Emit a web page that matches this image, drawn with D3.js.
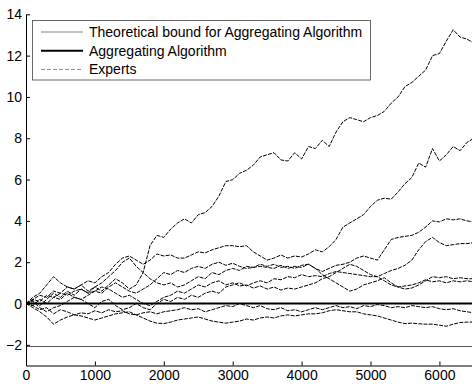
<!DOCTYPE html>
<html><head><meta charset="utf-8">
<script src="https://cdn.jsdelivr.net/npm/d3@7"></script>
<style>body{margin:0;background:#fff}svg{display:block}text{font-family:"Liberation Sans",Arial,sans-serif}</style>
</head><body><svg id="c" width="472" height="384"></svg>
<script>
// time grid of the sampled readings (every 100 rounds)
const steps = d3.range(0, 6501, 100);
const xTicks = [0, 1000, 2000, 3000, 4000, 5000, 6000];
const yTicks = [-2, 0, 2, 4, 6, 8, 10, 12, 14];
const legendLabels = ["Theoretical bound for Aggregating Algorithm", "Aggregating Algorithm", "Experts"];
const boundValue = -2.08;
const aaValue = 0;
const expertA = [0,0.15,-0.1,0.2,0.5,0.3,0.6,0.4,0.7,0.5,0.8,0.6,0.9,1.2,1.0,0.7,0.9,1.5,2.8,3.3,3.2,3.6,3.9,4.1,3.9,4.3,4.4,4.7,5.2,5.9,6.0,6.3,6.45,6.7,7.1,7.2,7.3,6.95,6.9,7.3,7.0,7.6,7.5,7.9,7.6,8.3,8.8,9.0,8.9,8.8,9.0,9.1,9.3,9.7,10.0,10.5,10.7,11.0,11.3,12.0,12.1,12.7,13.25,12.9,12.8,12.6];
const expertB = [0,0.2,0.4,0.3,0.6,0.5,0.8,0.7,0.9,1.1,1.0,1.3,1.5,1.9,2.2,2.3,2.1,1.9,2.1,2.4,2.3,2.35,2.2,2.2,2.35,2.5,2.45,2.6,2.7,2.8,2.8,2.75,2.8,2.5,2.3,2.1,2.2,2.35,2.2,2.3,2.25,2.4,2.6,2.5,2.75,3.1,3.7,3.9,4.1,4.3,4.7,5.0,5.1,5.05,5.4,5.8,6.1,6.8,6.6,7.5,6.9,7.2,7.6,7.4,7.8,8.0];
const expertC = [0,-0.1,0.2,0.0,0.3,0.2,0.5,0.3,0.2,0.4,0.6,0.5,0.8,1.0,0.8,0.6,0.5,0.7,0.9,1.2,1.5,1.4,1.6,1.5,1.7,1.8,1.7,1.9,2.0,1.85,1.95,1.8,1.7,1.75,1.8,1.75,1.7,1.85,1.7,1.8,1.75,1.9,1.7,1.55,1.7,1.85,1.9,2.0,2.2,2.3,2.2,2.1,2.6,3.1,3.2,3.25,3.3,3.45,3.7,4.0,3.95,4.1,4.05,4.1,4.0,3.95];
const expertD = [0,0.1,-0.2,-0.4,-0.2,-0.1,0.1,0.3,0.2,0.0,-0.2,0.1,0.2,-0.1,-0.3,-0.2,0.0,-0.2,-0.3,0.0,0.2,0.1,0.3,0.2,0.4,0.3,0.5,0.6,0.5,0.8,0.9,1.0,0.85,1.0,1.1,1.0,1.2,1.15,1.3,1.25,1.4,1.3,1.35,1.3,1.45,1.55,1.5,1.45,1.4,1.35,1.3,1.3,1.45,1.6,1.7,1.85,2.1,2.6,3.0,3.2,2.95,2.8,2.85,2.9,2.9,2.95];
const expertE = [0,0.3,0.5,0.9,1.3,1.0,0.8,0.7,0.9,0.6,0.8,1.0,1.3,1.6,2.0,2.2,1.8,1.5,1.2,1.0,0.9,1.0,0.8,0.9,1.1,1.3,1.2,1.5,1.4,1.6,1.7,1.6,1.8,1.75,1.9,1.8,1.9,1.75,1.8,1.7,1.85,1.9,1.7,1.4,1.2,1.0,0.8,0.6,0.7,0.9,1.0,1.1,1.25,1.0,0.8,0.7,0.75,0.9,1.1,1.3,1.25,1.3,1.2,1.25,1.2,1.2];
const expertF = [0,0.2,0.1,0.4,0.3,0.5,0.4,0.6,0.7,0.5,0.6,0.8,0.7,0.5,0.3,0.4,0.2,0.0,-0.1,0.1,0.3,0.4,0.6,0.5,0.7,0.9,0.8,1.0,1.1,0.9,1.0,0.85,0.9,0.75,0.85,0.7,0.8,0.65,0.75,0.7,0.8,0.9,1.0,1.2,1.3,1.5,1.7,1.9,1.8,1.6,1.4,1.3,1.1,0.9,0.8,0.85,0.9,1.0,1.15,1.05,1.1,1.0,1.1,1.05,1.1,1.05];
const expertG = [0,-0.1,-0.3,-0.2,-0.5,-0.3,-0.4,-0.55,-0.45,-0.5,-0.35,-0.45,-0.3,-0.4,-0.35,-0.5,-0.55,-0.45,-0.4,-0.5,-0.4,-0.35,-0.3,-0.2,-0.3,-0.25,-0.4,-0.3,-0.2,-0.1,-0.15,0.0,-0.1,-0.2,-0.1,-0.25,-0.3,-0.2,-0.35,-0.3,-0.4,-0.3,-0.2,-0.3,-0.2,-0.1,-0.2,-0.15,-0.25,-0.1,-0.15,-0.05,-0.1,-0.2,-0.15,-0.2,-0.1,-0.15,-0.2,-0.15,-0.25,-0.3,-0.25,-0.35,-0.4,-0.45];
const expertH = [0,-0.2,-0.4,-0.65,-1.0,-0.8,-0.65,-0.55,-0.6,-0.7,-0.8,-0.7,-0.6,-0.5,-0.45,-0.4,-0.55,-0.7,-0.85,-0.95,-0.97,-0.9,-0.8,-0.75,-0.7,-0.65,-0.75,-0.85,-0.9,-0.95,-0.9,-0.85,-0.75,-0.8,-0.7,-0.65,-0.7,-0.6,-0.55,-0.6,-0.55,-0.5,-0.5,-0.45,-0.35,-0.3,-0.35,-0.4,-0.4,-0.5,-0.55,-0.6,-0.7,-0.8,-0.9,-0.97,-0.95,-0.98,-1.0,-1.0,-1.05,-1.1,-1.0,-0.92,-0.9,-0.9];
const experts = [expertA, expertB, expertC, expertD, expertE, expertF, expertG, expertH];

const svg = d3.select("#c");
svg.append("rect").attr("width",472).attr("height",384).attr("fill","#fff");
const L = 26, R = 472, T = 14.3, B = 365.5;
const x = d3.scaleLinear().domain([0, 6473]).range([L, R]);
const y = d3.scaleLinear().domain([-3, 14]).range([B, T]);

svg.append("defs").append("clipPath").attr("id","clip")
  .append("rect").attr("x",L).attr("y",0).attr("width",R-L).attr("height",B);

const plot = svg.append("g").attr("clip-path","url(#clip)");
const line = d3.line().x((d,i)=>x(steps[i])).y(d=>y(d));
experts.forEach(s=>{
  plot.append("path").attr("d",line(s)).attr("fill","none")
    .attr("stroke","#000").attr("stroke-width",1).attr("stroke-dasharray","4,1.2");
});
plot.append("line").attr("x1",x(0)).attr("x2",x(6473)).attr("y1",y(aaValue)).attr("y2",y(aaValue))
  .attr("stroke","#000").attr("stroke-width",2);
plot.append("line").attr("x1",x(0)).attr("x2",x(6473)).attr("y1",y(boundValue)).attr("y2",y(boundValue))
  .attr("stroke","#555").attr("stroke-width",1);

// axes (MATLAB style: ticks inside)
const xa = svg.append("g").attr("transform",`translate(0,${B})`)
  .call(d3.axisBottom(x).tickValues(xTicks).tickSizeInner(-4).tickSizeOuter(0).tickPadding(5).tickFormat(d3.format("d")));
const ya = svg.append("g").attr("transform",`translate(${L},0)`)
  .call(d3.axisLeft(y).tickValues(yTicks).tickSizeInner(-4).tickSizeOuter(0).tickPadding(4).tickFormat(d3.format("d")));
[xa, ya].forEach(g=>{
  g.select(".domain").attr("stroke","#000").attr("stroke-width",1);
  g.selectAll(".tick line").attr("stroke","#000");
  g.selectAll("text").attr("font-size",14).attr("fill","#000").attr("font-family","Liberation Sans, Arial, sans-serif");
});
xa.selectAll("text").attr("dy","0.7em");

// legend
const lg = svg.append("g");
lg.append("rect").attr("x",32.5).attr("y",20.5).attr("width",338).attr("height",59.5)
  .attr("fill","#fff").attr("stroke","#444").attr("stroke-width",0.8);
const styles = [
  {stroke:"#888", w:1.2, dash:null},
  {stroke:"#000", w:2, dash:null},
  {stroke:"#888", w:1, dash:"4,2"}
];
legendLabels.forEach((t,i)=>{
  const yy = 32 + i*18.7;
  lg.append("line").attr("x1",41).attr("x2",83).attr("y1",yy).attr("y2",yy)
    .attr("stroke",styles[i].stroke).attr("stroke-width",styles[i].w)
    .attr("stroke-dasharray",styles[i].dash);
  lg.append("text").attr("x",89).attr("y",yy).attr("dy","0.36em")
    .attr("font-size",14).attr("fill","#000").text(t);
});
</script></body></html>
